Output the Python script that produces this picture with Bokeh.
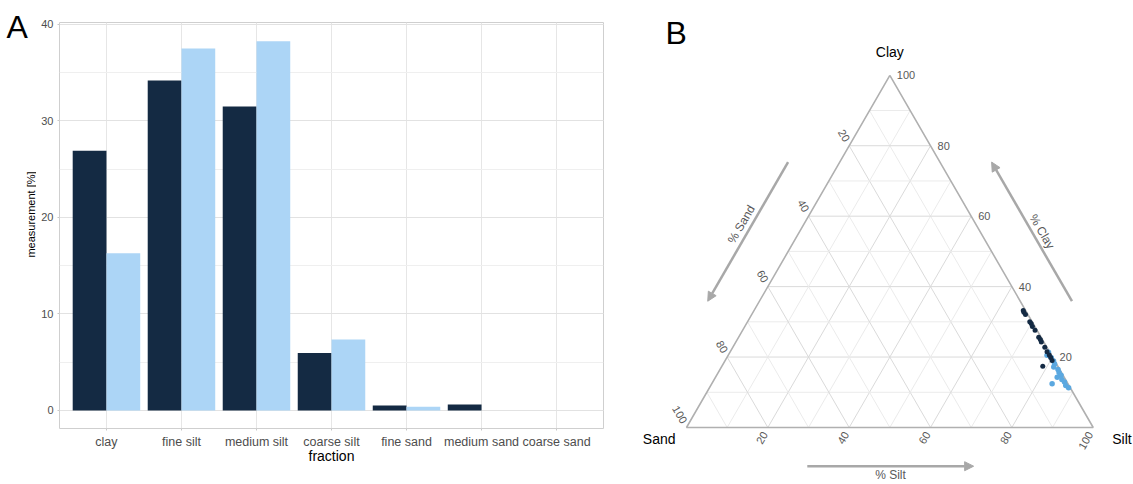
import numpy as np
from bokeh.plotting import figure
from bokeh.layouts import row, column
from bokeh.models import (FactorRange, Range1d, SingleIntervalTicker,
                          Arrow, NormalHead, ColumnDataSource)
from bokeh.transform import dodge
from bokeh.core.properties import value
from bokeh.embed import file_html
from bokeh.resources import INLINE

# ---------------- data ----------------
fractions = ["clay", "fine silt", "medium silt", "coarse silt",
             "fine sand", "medium sand", "coarse sand"]
sample_dark = [26.9, 34.2, 31.5, 5.95, 0.52, 0.62, 0.0]
sample_light = [16.3, 37.5, 38.25, 7.35, 0.38, 0.0, 0.0]
y_tick_interval = 10

# ternary points (percent)
dark_clay = [33.2, 32.7, 32.1, 30.0, 29.5, 28.7, 27.6, 25.6, 25.0, 24.3,
             22.8, 21.5, 20.6, 19.9, 19.0, 17.4]
dark_sand = [0.6, 0.7, 0.6, 0.6, 0.5, 0.6, 0.5, 0.6, 0.5, 0.6,
             0.5, 0.6, 0.5, 0.5, 0.6, 3.7]
light_clay = [21.4, 20.5, 19.8, 18.9, 18.0, 17.2, 16.5, 15.6, 14.8, 14.3,
              13.6, 12.9, 12.4, 11.9, 11.3]
light_sand = [0.3, 1.1, 0.4, 0.3, 0.5, 1.1, 0.4, 0.6, 0.5, 1.7,
              0.9, 0.6, 3.9, 0.8, 0.4]
tern_labels = [20, 40, 60, 80, 100]
tern_grid = [10, 20, 30, 40, 50, 60, 70, 80, 90]

FONT = "Liberation Sans"
DARK = "#142a43"
LIGHT = "#acd5f6"
PT_LIGHT = "#5ba8e0"
GREY_TXT = "#595959"

# ---------------- left strip: letter A and y-axis title ----------------
STRIP_W = 36
pA = figure(width=STRIP_W, height=484, x_range=Range1d(0, STRIP_W), y_range=Range1d(484, 0),
            output_backend="svg", toolbar_location=None,
            x_axis_location=None, y_axis_location=None, min_border=0)
pA.grid.visible = False
pA.outline_line_color = None
pA.text([6], [8], text=["A"], text_align="left", text_baseline="top",
        text_font=value(FONT), text_font_size="32px", text_color="black")
pA.text([30], [214], text=["measurement [%]"], angle=np.pi / 2, text_align="center",
        text_baseline="middle", text_font=value(FONT), text_font_size="11px",
        text_color="black")

# ---------------- panel A ----------------
p1 = figure(width=620 - STRIP_W, height=484,
            x_range=FactorRange(factors=fractions, range_padding=0.036),
            y_range=Range1d(-1.87, 40.2),
            output_backend="svg", toolbar_location=None,
            min_border_left=59 - STRIP_W, min_border_right=17,
            min_border_top=22, min_border_bottom=56)
p1.outline_line_color = "#cfcfcf"
p1.background_fill_color = "white"

src = ColumnDataSource(dict(fraction=fractions, dark=sample_dark, light=sample_light))
p1.vbar(x=dodge("fraction", -0.225, range=p1.x_range), top="dark", width=0.45,
        source=src, fill_color=DARK, line_color=None)
p1.vbar(x=dodge("fraction", 0.225, range=p1.x_range), top="light", width=0.45,
        source=src, fill_color=LIGHT, line_color=None)

ticker = SingleIntervalTicker(interval=y_tick_interval, num_minor_ticks=2)
p1.yaxis.ticker = ticker
p1.ygrid.ticker = ticker
p1.ygrid.grid_line_color = "#e2e2e2"
p1.ygrid.minor_grid_line_color = "#efefef"
p1.xgrid.grid_line_color = "#e6e6e6"

for ax in (p1.xaxis[0], p1.yaxis[0]):
    ax.axis_line_color = None
    ax.major_tick_line_color = "#c8c8c8"
    ax.major_tick_out = 2
    ax.major_tick_in = 0
    ax.minor_tick_line_color = None
    ax.major_label_text_font = FONT
    ax.major_label_text_color = "#4d4d4d"
    ax.axis_label_text_font = FONT
    ax.axis_label_text_font_style = "normal"
    ax.axis_label_text_color = "black"

p1.xaxis.major_label_text_font_size = "12.5px"
p1.xaxis.major_label_standoff = 4
p1.xaxis.axis_label = "fraction"
p1.xaxis.axis_label_text_font_size = "14px"
p1.xaxis.axis_label_standoff = -4
p1.yaxis.major_label_text_font_size = "11px"
p1.yaxis.major_label_standoff = 2

# ---------------- panel B (ternary) ----------------
S = 406.7  # px per unit side
p2 = figure(width=513, height=484,
            x_range=Range1d(-66 / S, (513 - 66) / S),
            y_range=Range1d(-(484 - 427) / S, 427 / S),
            output_backend="svg", toolbar_location=None,
            x_axis_location=None, y_axis_location=None, min_border=0)
p2.grid.visible = False
p2.outline_line_color = None

SQ = np.sqrt(3) / 2


def tern(clay, sand, silt):
    tot = clay + sand + silt
    c, t = clay / tot, silt / tot
    return t + c / 2, c * SQ


# grid lines
for v in tern_grid:
    f = v / 100
    segs = [((f, 1 - f, 0), (f, 0, 1 - f)),
            ((1 - f, f, 0), (0, f, 1 - f)),
            ((1 - f, 0, f), (0, 1 - f, f))]
    col = "#dadada" if v % 20 == 0 else "#ebebeb"
    xs, ys = [], []
    for a, b in segs:
        xa, ya = tern(*a)
        xb, yb = tern(*b)
        xs.append([xa, xb])
        ys.append([ya, yb])
    p2.multi_line(xs, ys, line_color=col, line_width=1)

# border
vx, vy = zip(tern(1, 0, 0), tern(0, 0, 1), tern(0, 1, 0), tern(1, 0, 0))
p2.line(list(vx), list(vy), line_color="#b0b0b0", line_width=1.6)

# points
lc = np.array(light_clay); ls = np.array(light_sand)
lx, ly = tern(lc, ls, 100 - lc - ls)
p2.scatter(lx, ly, size=5.5, fill_color=PT_LIGHT, line_color=None)
dc = np.array(dark_clay); ds = np.array(dark_sand)
dx, dy = tern(dc, ds, 100 - dc - ds)
p2.scatter(dx, dy, size=5, fill_color=DARK, line_color=None)

# tick labels
tl = np.array(tern_labels, dtype=float)
cx, cy = tern(tl, 0 * tl, 100 - tl)
p2.text(cx, cy, text=[str(int(v)) for v in tl], x_offset=7, text_align="left",
        text_baseline="middle", text_font=value(FONT), text_font_size="11px",
        text_color=GREY_TXT)
sx, sy = tern(100 - tl, tl, 0 * tl)
p2.text(sx, sy, text=[str(int(v)) for v in tl], x_offset=-2, y_offset=-5,
        angle=-np.pi / 3, text_align="right", text_baseline="middle",
        text_font=value(FONT), text_font_size="11px", text_color=GREY_TXT)
bx, by = tern(0 * tl, 100 - tl, tl)
p2.text(bx, by, text=[str(int(v)) for v in tl], x_offset=-3, y_offset=5,
        angle=np.pi / 3, text_align="right", text_baseline="middle",
        text_font=value(FONT), text_font_size="11px", text_color=GREY_TXT)

# corner labels
tx, ty = tern(1, 0, 0)
p2.text([tx], [ty], text=["Clay"], y_offset=-23, text_align="center",
        text_baseline="middle", text_font=value(FONT), text_font_size="14px",
        text_color="black")
lx0, ly0 = tern(0, 1, 0)
p2.text([lx0], [ly0], text=["Sand"], x_offset=-11, y_offset=11, text_align="right",
        text_baseline="middle", text_font=value(FONT), text_font_size="14px",
        text_color="black")
rx0, ry0 = tern(0, 0, 1)
p2.text([rx0], [ry0], text=["Silt"], x_offset=19, y_offset=11, text_align="left",
        text_baseline="middle", text_font=value(FONT), text_font_size="14px",
        text_color="black")


def left_pt(h, k):
    return h / 2 - k * SQ, h * SQ + k * 0.5


def right_pt(h, k):
    return 1 - h / 2 + k * SQ, h * SQ + k * 0.5


ARW = "#a8a8a8"
a0, a1, off = 0.295, 0.69, 0.110
xs0, ys0 = left_pt(a1, off); xs1, ys1 = left_pt(a0, off)
p2.add_layout(Arrow(x_start=xs0, y_start=ys0, x_end=xs1, y_end=ys1,
                    line_color=ARW, line_width=2.5,
                    end=NormalHead(size=9, fill_color=ARW, line_color=ARW)))
xs0, ys0 = right_pt(a0, off); xs1, ys1 = right_pt(a1, off)
p2.add_layout(Arrow(x_start=xs0, y_start=ys0, x_end=xs1, y_end=ys1,
                    line_color=ARW, line_width=2.5,
                    end=NormalHead(size=9, fill_color=ARW, line_color=ARW)))
p2.add_layout(Arrow(x_start=0.297, y_start=-0.0952, x_end=0.706, y_end=-0.0952,
                    line_color=ARW, line_width=2.5,
                    end=NormalHead(size=9, fill_color=ARW, line_color=ARW)))

tx1, ty1 = left_pt(0.5, 0.133)
p2.text([tx1], [ty1], text=["% Sand"], angle=np.pi / 3, text_align="center",
        text_baseline="middle", text_font=value(FONT), text_font_size="12px",
        text_color=GREY_TXT)
tx2, ty2 = right_pt(0.48, 0.132)
p2.text([tx2], [ty2], text=["% Clay"], angle=-np.pi / 3, text_align="center",
        text_baseline="middle", text_font=value(FONT), text_font_size="12px",
        text_color=GREY_TXT)
p2.text([0.5016], [-0.1156], text=["% Silt"], text_align="center",
        text_baseline="middle", text_font=value(FONT), text_font_size="12px",
        text_color=GREY_TXT)

# panel letter B
p2.text([-21 / S], [(427 - 14) / S], text=["B"], text_align="left",
        text_baseline="top", text_font=value(FONT), text_font_size="32px",
        text_color="black")

layout = row(column(pA), p1, column(p2))
open("out.html", "w").write(file_html(layout, INLINE))
